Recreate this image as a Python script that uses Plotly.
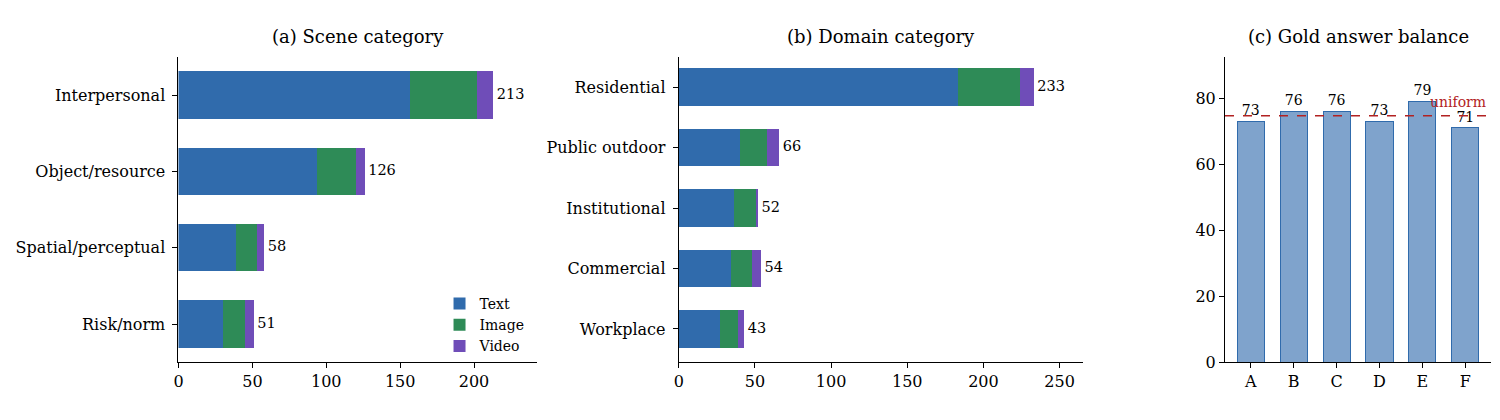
import plotly.graph_objects as go
from plotly.subplots import make_subplots

# (a) scene categories
scene_cats = ["Interpersonal", "Object/resource", "Spatial/perceptual", "Risk/norm"]
scene_text = [157, 94, 39, 30]
scene_image = [45, 26, 14, 15]
scene_video = [11, 6, 5, 6]

# (b) domain categories
domain_cats = ["Residential", "Public outdoor", "Institutional", "Commercial", "Workplace"]
domain_text = [183, 40, 36, 34, 27]
domain_image = [41, 18, 15, 14, 12]
domain_video = [9, 8, 1, 6, 4]

# (c) gold answer balance
answer_letters = ["A", "B", "C", "D", "E", "F"]
answer_counts = [73, 76, 76, 73, 79, 71]

modalities = ["Text", "Image", "Video"]
colors = {"Text": "#306bac", "Image": "#2e8b57", "Video": "#6f4db8"}
FONT = "DejaVu Serif"

fig = make_subplots(rows=1, cols=3)


def add_stacked(cats, text, image, video, col, show_legend):
    for name, vals in zip(modalities, [text, image, video]):
        fig.add_trace(go.Bar(y=cats, x=vals, name=name, orientation="h",
                             marker_color=colors[name], marker_line_width=0,
                             width=0.62, showlegend=show_legend,
                             legendgroup=name),
                      row=1, col=col)
    totals = [t + i + v for t, i, v in zip(text, image, video)]
    # totals written just past the end of each stack
    fig.add_trace(go.Scatter(y=cats, x=totals, mode="markers+text",
                             marker=dict(size=4, color="rgba(0,0,0,0)"),
                             text=[str(t) for t in totals],
                             textposition="middle right",
                             textfont=dict(size=14.5, color="black", family=FONT),
                             showlegend=False, hoverinfo="skip"),
                  row=1, col=col)
    return totals


scene_tot = add_stacked(scene_cats, scene_text, scene_image, scene_video, 1, True)
domain_tot = add_stacked(domain_cats, domain_text, domain_image, domain_video, 2, False)

fig.add_trace(go.Bar(x=answer_letters, y=answer_counts,
                     marker=dict(color="rgba(48,107,172,0.62)",
                                 line=dict(color="#306bac", width=1)),
                     width=0.63, text=[str(c) for c in answer_counts],
                     textposition="outside", cliponaxis=False,
                     textfont=dict(size=14, color="black", family=FONT),
                     showlegend=False),
              row=1, col=3)

uniform = sum(answer_counts) / len(answer_counts)
fig.add_hline(y=uniform, line=dict(color="#b22222", width=1.5, dash="dash"),
              row=1, col=3)
fig.add_annotation(x=1, y=uniform, xref="x3 domain", yref="y3",
                   text="uniform", showarrow=False, xanchor="right",
                   yanchor="bottom", yshift=4, xshift=-3,
                   font=dict(size=14, color="#b22222", family=FONT))

axis_style = dict(showline=True, linecolor="black", linewidth=1, ticks="outside",
                  ticklen=5, tickcolor="black", showgrid=False, zeroline=False,
                  tickfont=dict(size=16, color="black", family=FONT))

ydom = [0.1362, 0.8805]
fig.update_xaxes(axis_style)
fig.update_yaxes(axis_style)
fig.update_xaxes(domain=[0.1107, 0.3507], range=[0, max(scene_tot) * 1.14],
                 dtick=50, row=1, col=1)
fig.update_yaxes(domain=ydom, range=[3.5, -0.5], ticklabelstandoff=4, row=1, col=1)
fig.update_xaxes(domain=[0.4453, 0.716], range=[0, max(domain_tot) * 1.14],
                 dtick=50, row=1, col=2)
fig.update_yaxes(domain=ydom, range=[4.55, -0.5], ticklabelstandoff=4, row=1, col=2)
fig.update_xaxes(domain=[0.8107, 0.9887], range=[-0.6, 5.6], row=1, col=3)
fig.update_yaxes(domain=ydom, range=[0, max(answer_counts) * 1.17], dtick=20,
                 row=1, col=3)

titles = [("(a) Scene category", 0.2307), ("(b) Domain category", 0.5807),
          ("(c) Gold answer balance", 0.8997)]
for txt, xc in titles:
    fig.add_annotation(x=xc, y=0.93, xref="paper", yref="paper", text=txt,
                       showarrow=False, xanchor="center", yanchor="middle",
                       font=dict(size=18, color="black", family=FONT))

fig.update_layout(
    width=1500, height=420, barmode="stack", bargap=0.38,
    plot_bgcolor="white", paper_bgcolor="white",
    margin=dict(l=0, r=0, t=0, b=0),
    font=dict(family=FONT, color="black"),
    legend=dict(x=0.2853, y=0.1367, xanchor="left", yanchor="bottom",
                font=dict(size=14, family=FONT), bgcolor="rgba(0,0,0,0)",
                tracegroupgap=0, itemwidth=30),
)

fig.write_html("out.html")
